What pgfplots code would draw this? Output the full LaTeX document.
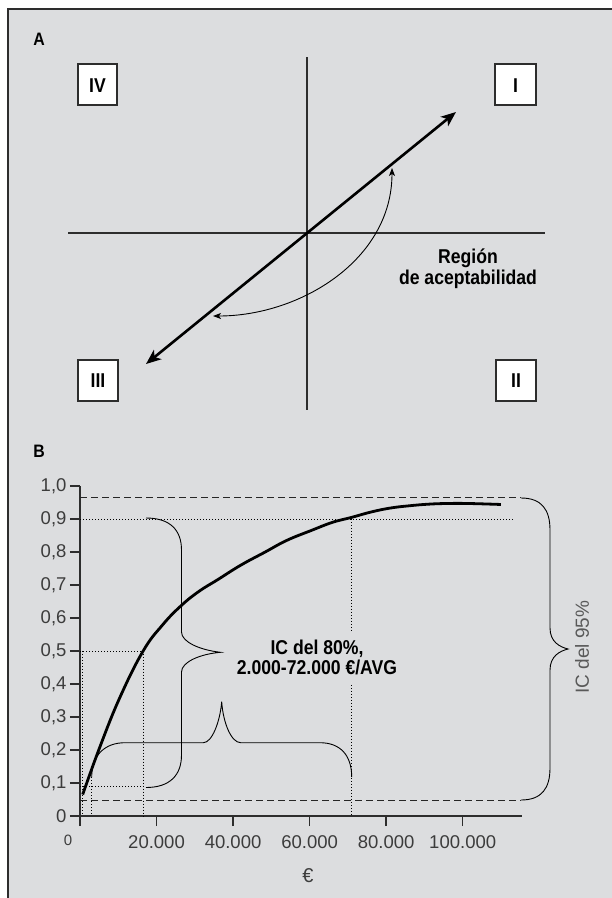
\documentclass[border=0pt]{standalone}
\usepackage{fontspec}
\setmainfont{Liberation Sans}
\newfontfamily\condb[FakeStretch=0.88]{Liberation Sans}
\usepackage{pgfplots}
\pgfplotsset{compat=1.18}
\usetikzlibrary{arrows.meta}
\definecolor{bg}{RGB}{220,221,223}
\definecolor{ln}{RGB}{45,45,45}
\definecolor{tk}{RGB}{60,60,60}
\newcommand\lab{\condb\bfseries\fontsize{20}{22}\selectfont}
\newcommand\tkf{\fontsize{18.5}{20}\selectfont}
\begin{document}
\begin{tikzpicture}
% ---------- overlay axis in pixel coordinates (y downward) ----------
\begin{axis}[at={(0pt,0pt)}, anchor=south west, scale only axis,
  width=612pt, height=898pt, xmin=0, xmax=612, ymin=0, ymax=898,
  y dir=reverse, axis lines=none, clip=false]
\fill[white] (0,0) rectangle (612,898);
\fill[bg] (8,9) rectangle (612,898);
\draw[ln, line width=1.5pt] (8,898) -- (8,9) -- (612,9);
% panel A
\node[font=\condb\bfseries\fontsize{18}{18}\selectfont, anchor=base] at (39,45) {A};
\draw[ln, line width=1.2pt] (307,57) -- (307,410);
\draw[ln, line width=1.2pt] (68,233) -- (545,233);
\draw[black, line width=2.6pt, {Stealth[length=15pt,width=12pt,inset=4pt]}-{Stealth[length=15pt,width=12pt,inset=4pt]}] (146,364) -- (456,112);
\draw[black, line width=0.9pt, {Stealth[length=8pt,width=6pt,inset=2pt]}-{Stealth[length=8pt,width=6pt,inset=2pt]}] (213,316) .. controls (300,316) and (392,260) .. (392,168);
\draw[ln, line width=1.1pt, fill=white] (78,64) rectangle (117,105);
\draw[ln, line width=1.1pt, fill=white] (495,64) rectangle (536,105);
\draw[ln, line width=1.1pt, fill=white] (78,360) rectangle (118,401);
\draw[ln, line width=1.1pt, fill=white] (496,360) rectangle (536,401);
\node[font=\lab, anchor=base] at (97.5,92) {IV};
\node[font=\lab, anchor=base] at (515.5,92) {I};
\node[font=\lab, anchor=base] at (98,387) {III};
\node[font=\lab, anchor=base] at (516,387) {II};
\node[font=\lab, anchor=base] at (468,263) {Región};
\node[font=\lab, anchor=base] at (468,284) {de aceptabilidad};
% panel B annotations
\node[font=\condb\bfseries\fontsize{18}{18}\selectfont, anchor=base] at (39,457) {B};
\draw[black, line width=0.9pt] (521,498) .. controls (542,498) and (550,510) .. (550,530)
  -- (550,628) .. controls (550,642) and (560,647) .. (568,649)
  .. controls (560,651) and (550,656) .. (550,670)
  -- (550,768) .. controls (550,788) and (542,800) .. (521,800);
\draw[black, line width=0.9pt] (146,518) .. controls (170,518) and (181.5,530) .. (181.5,550)
  -- (181.5,632) .. controls (181.5,642) and (200,650) .. (220.5,652.3)
  .. controls (200,654) and (181.5,662) .. (181.5,672)
  -- (181.5,755) .. controls (181.5,775) and (170,787.5) .. (146,787.5);
\draw[black, line width=0.9pt] (91.7,777) .. controls (91.7,755) and (105,742.7) .. (125,742.7)
  -- (203.3,742.7) .. controls (212,742.7) and (220,722) .. (221.7,701.7)
  .. controls (223,722) and (231,742.7) .. (240.7,742.7)
  -- (320,742.7) .. controls (340,742.7) and (351.7,755) .. (351.7,777);
\node[font=\lab, anchor=base] at (317,654) {IC del 80\%,};
\node[font=\lab, anchor=base] at (317,674) {2.000-72.000 €/AVG};
\node[font=\fontsize{19}{19}\selectfont, text=black!65, rotate=90] at (582,647) {IC del 95\%};
\node[font=\fontsize{20}{20}\selectfont, text=tk] at (308,875.5) {€};
\node[font=\fontsize{15}{15}\selectfont, text=tk] at (68,840) {0};
\end{axis}
% ---------- data axis ----------
\begin{axis}[at={(80pt,82pt)}, anchor=south west, scale only axis,
  width=442pt, height=330pt, xmin=0, xmax=115500, ymin=0, ymax=1,
  axis lines*=left, axis line style={ln, line width=1.4pt},
  tick style={ln, line width=1.3pt}, major tick length=10pt, tick align=outside,
  xtick={0,20000,40000,60000,80000,100000},
  xticklabels={,20.000,40.000,60.000,80.000,100.000},
  ytick={0,0.1,0.2,0.3,0.4,0.5,0.6,0.7,0.8,0.9,1},
  yticklabels={0,{0,1},{0,2},{0,3},{0,4},{0,5},{0,6},{0,7},{0,8},{0,9},{1,0}},
  tick label style={font=\tkf, text=tk}, xticklabel style={yshift=-6pt},
  scaled x ticks=false, scaled y ticks=false,
  clip=false]
\draw[black!85, line width=1pt, dash pattern=on 6.5pt off 4.5pt] (0,0.964) -- (115200,0.964);
\draw[black!85, line width=1pt, dash pattern=on 6.5pt off 4.5pt] (0,0.048) -- (115200,0.048);
\draw[black, line width=0.9pt, dash pattern=on 1.2pt off 1.8pt] (0,0.9) -- (113500,0.9);
\draw[black, line width=0.9pt, dash pattern=on 1.2pt off 1.8pt] (71000,0.9) -- (71000,0.555);
\draw[black, line width=0.9pt, dash pattern=on 1.2pt off 1.8pt] (71000,0.397) -- (71000,0);
\draw[black, line width=0.9pt, dash pattern=on 1.2pt off 1.8pt] (0,0.5) -- (16550,0.5) -- (16550,0);
\draw[black, line width=0.9pt, dash pattern=on 1.2pt off 1.8pt] (0,0.09) -- (17000,0.09);
\draw[black, line width=0.9pt, dash pattern=on 1.2pt off 1.8pt] (3060,0.118) -- (3060,0);
\draw[black, line width=0.9pt, dash pattern=on 1.2pt off 1.8pt] (600,0.5) -- (600,0);
\addplot[black, line width=2.8pt, smooth, tension=0.7] coordinates {
(700,0.065) (5222,0.21) (10452,0.36) (16500,0.50) (21500,0.578)
(26300,0.636) (31000,0.68) (36100,0.717) (42000,0.76) (48400,0.80)
(54000,0.835) (60600,0.866) (66000,0.89) (71000,0.905) (76000,0.921)
(81000,0.933) (86000,0.940) (91200,0.945) (96000,0.947) (101400,0.947)
(110000,0.944)};
\end{axis}
\pgfresetboundingbox
\path (0,0) rectangle (612pt,898pt);
\end{tikzpicture}
\end{document}
